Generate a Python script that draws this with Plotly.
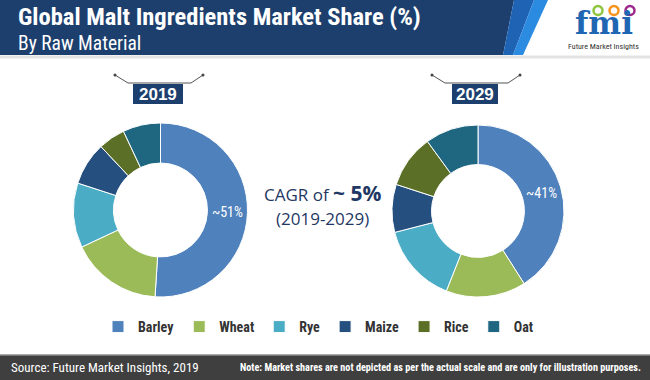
import plotly.graph_objects as go

W, H = 650, 380

materials = ["Barley", "Wheat", "Rye", "Maize", "Rice", "Oat"]
share_2019 = [51, 17, 12, 8, 5, 7]
share_2029 = [41, 15, 15, 9, 10, 10]
labels_2019 = ["~51%", "", "", "", "", ""]
labels_2029 = ["~41%", "", "", "", "", ""]
colors = ["#4f81bd", "#9bbb59", "#4bacc6", "#254f7e", "#5b7026", "#1f6680"]

NAVY = "#1d3f6e"
COND = "Roboto Condensed, Liberation Sans, sans-serif"


def px(x):
    return x / W


def py(y):
    return 1 - y / H


fig = go.Figure()

common = dict(
    textinfo="text", textposition="inside", insidetextorientation="horizontal",
    textfont=dict(color="white", size=14, family=COND),
    marker=dict(colors=colors, line=dict(color="white", width=1)),
    hole=0.54, sort=False, direction="clockwise", rotation=0,
    hoverinfo="label+percent",
)
fig.add_trace(go.Pie(labels=materials, values=share_2019, text=labels_2019,
                     domain=dict(x=[px(73), px(248)], y=[py(297), py(123)]),
                     showlegend=True, **common))
fig.add_trace(go.Pie(labels=materials, values=share_2029, text=labels_2029,
                     domain=dict(x=[px(392), px(564)], y=[py(297), py(125)]),
                     showlegend=False, **common))

shapes = []
# header band with stripes
shapes.append(dict(type="path", xref="paper", yref="paper",
                   path=f"M 0 1 L {px(514)} 1 L {px(503)} {py(55)} L 0 {py(55)} Z",
                   fillcolor=NAVY, line=dict(width=0), layer="below"))
shapes.append(dict(type="path", xref="paper", yref="paper",
                   path=f"M {px(514)} 1 L {px(534)} 1 L {px(513)} {py(55)} L {px(503)} {py(55)} Z",
                   fillcolor="#1f63b4", line=dict(width=0), layer="below"))
shapes.append(dict(type="path", xref="paper", yref="paper",
                   path=f"M {px(534)} 1 L {px(548)} 1 L {px(523)} {py(55)} L {px(513)} {py(55)} Z",
                   fillcolor="#2b8be0", line=dict(width=0), layer="below"))
shapes.append(dict(type="line", xref="paper", yref="paper",
                   x0=0, x1=1, y0=py(57), y1=py(57),
                   line=dict(color="#e3e3e3", width=3)))
# footer band
shapes.append(dict(type="rect", xref="paper", yref="paper",
                   x0=0, x1=1, y0=0, y1=py(355),
                   fillcolor="#3f3f3f", line=dict(width=0), layer="below"))
shapes.append(dict(type="line", xref="paper", yref="paper",
                   x0=0, x1=1, y0=py(355), y1=py(355),
                   line=dict(color="#8c8c8c", width=1.5)))

# year boxes and brackets
for (bx0, bx1, lx0, lx1) in [(133, 183, 115, 203), (452, 498, 432, 520)]:
    shapes.append(dict(type="rect", xref="paper", yref="paper",
                       x0=px(bx0), x1=px(bx1), y0=py(104), y1=py(84),
                       fillcolor=NAVY, line=dict(width=0)))
    shapes.append(dict(type="path", xref="paper", yref="paper",
                       path=(f"M {px(lx0)} {py(75)} L {px(lx0 + 13)} {py(83)} "
                             f"L {px(lx1 - 12)} {py(83)} L {px(lx1)} {py(75)}"),
                       line=dict(color="#555555", width=1)))
    for cx in (lx0, lx1):
        shapes.append(dict(type="circle", xref="paper", yref="paper",
                           x0=px(cx - 1.5), x1=px(cx + 1.5),
                           y0=py(76.5), y1=py(73.5),
                           fillcolor="#444444", line=dict(width=0)))

# logo dots
for cx, col in [(598, "#8dc63f"), (614, "#f7941d"), (630, "#9c2a8c")]:
    shapes.append(dict(type="circle", xref="paper", yref="paper",
                       x0=px(cx - 4.5), x1=px(cx + 4.5), y0=py(15), y1=py(6),
                       fillcolor="white", line=dict(color=col, width=2.5)))

annotations = [
    dict(text="<b>Global Malt Ingredients Market Share (%)</b>", x=px(16), y=py(16),
         xref="paper", yref="paper", xanchor="left", yanchor="middle", showarrow=False,
         font=dict(family=COND, size=24.5, color="white")),
    dict(text="By Raw Material", x=px(16), y=py(43), xref="paper", yref="paper",
         xanchor="left", yanchor="middle", showarrow=False,
         font=dict(family=COND, size=19.5, color="white")),
    dict(text="<b>2019</b>", x=px(158), y=py(94), xref="paper", yref="paper",
         xanchor="center", yanchor="middle", showarrow=False,
         font=dict(family="Liberation Sans, Arial, sans-serif", size=17, color="white")),
    dict(text="<b>2029</b>", x=px(475), y=py(94), xref="paper", yref="paper",
         xanchor="center", yanchor="middle", showarrow=False,
         font=dict(family="Liberation Sans, Arial, sans-serif", size=17, color="white")),
    dict(text="CAGR of <b><span style='font-size:21px'>~ 5%</span></b>", x=px(323), y=py(193),
         xref="paper", yref="paper", xanchor="center", yanchor="middle", showarrow=False,
         font=dict(family="Open Sans, sans-serif", size=17, color="#1f3864")),
    dict(text="(2019-2029)", x=px(322), y=py(218), xref="paper", yref="paper",
         xanchor="center", yanchor="middle", showarrow=False,
         font=dict(family="Open Sans, sans-serif", size=17, color="#1f3864")),
    dict(text="Source: Future Market Insights, 2019", x=px(9), y=py(367.5),
         xref="paper", yref="paper", xanchor="left", yanchor="middle", showarrow=False,
         font=dict(family=COND, size=13, color="white")),
    dict(text="<b>Note: Market shares are not depicted as per the actual scale and are only for illustration purposes.</b>",
         x=px(643), y=py(367.5), xref="paper", yref="paper", xanchor="right", yanchor="middle",
         showarrow=False, font=dict(family=COND, size=10.2, color="white")),
    # logo
    dict(text="<b>fmi</b>", x=px(604), y=py(23), xref="paper", yref="paper",
         xanchor="center", yanchor="middle", showarrow=False,
         font=dict(family="DejaVu Serif, serif", size=31, color="#1f66b3")),
    dict(text="Future Market Insights", x=px(603), y=py(46), xref="paper", yref="paper",
         xanchor="center", yanchor="middle", showarrow=False,
         font=dict(family=COND, size=8, color="#333333")),
]

fig.update_layout(
    width=W, height=H,
    margin=dict(l=0, r=0, t=0, b=0),
    paper_bgcolor="white", plot_bgcolor="white",
    shapes=shapes, annotations=annotations,
    legend=dict(orientation="h", x=0.49, xanchor="center", y=py(327), yanchor="middle",
                font=dict(family=COND, size=14, color="#333333", weight="bold"),
                itemclick=False, tracegroupgap=0, traceorder="normal"),
)

fig.write_html("out.html", config={"displayModeBar": False},
               post_script="document.body.style.margin='0';")
